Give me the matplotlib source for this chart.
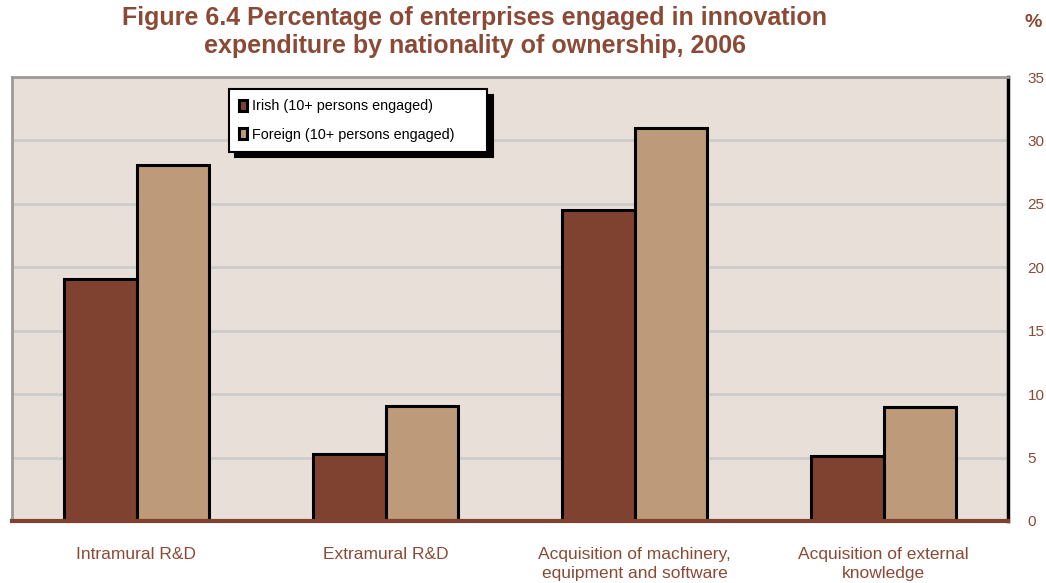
import matplotlib
matplotlib.use("Agg")
import matplotlib.pyplot as plt
import numpy as np

plt.rcParams['font.family'] = ['Liberation Sans', 'DejaVu Sans']

# Innovation expenditure by ownership, 2006 (% of enterprises)
categories = [
    "Intramural R&D",
    "Extramural R&D",
    "Acquisition of machinery,\nequipment and software",
    "Acquisition of external\nknowledge",
]
irish = [19.1, 5.3, 24.5, 5.1]
foreign = [28.1, 9.1, 31.0, 9.0]
series_names = ["Irish (10+ persons engaged)", "Foreign (10+ persons engaged)"]
y_ticks = [0, 5, 10, 15, 20, 25, 30, 35]

BROWN = '#7F4230'
TAN = '#BC9A7A'
TEXT = '#8B4A36'
BG = '#E8E0D8'

fig = plt.figure(figsize=(10.46, 5.83), dpi=100)
ax = fig.add_axes([12 / 1046, 1 - 521 / 583, 996 / 1046, 444 / 583])
ax.set_facecolor(BG)

x = np.arange(len(categories))
w = 0.29
b1 = ax.bar(x - w / 2, irish, w, color=BROWN, edgecolor='black', linewidth=2.2,
            label=series_names[0], zorder=3)
b2 = ax.bar(x + w / 2, foreign, w, color=TAN, edgecolor='black', linewidth=2.2,
            label=series_names[1], zorder=3)

ax.set_xlim(-0.5, len(categories) - 0.5)
ax.set_ylim(0, 35)

# gridlines
for t in y_ticks[1:-1]:
    ax.axhline(t, color='#CCCCCC', lw=2, zorder=1)
ax.axhline(0, color=BROWN, lw=3, zorder=4, clip_on=False)

for side in ['left', 'top']:
    ax.spines[side].set_color('#9A9A9A')
    ax.spines[side].set_linewidth(2)
ax.spines['right'].set_color('black')
ax.spines['right'].set_linewidth(2.5)
ax.spines['bottom'].set_visible(False)

ax.yaxis.tick_right()
ax.set_yticks(y_ticks)
ax.tick_params(axis='y', length=0, pad=14, labelsize=11, labelcolor=TEXT)
for lbl in ax.get_yticklabels():
    lbl.set_horizontalalignment('left')
ax.set_xticks(x)
ax.set_xticklabels(categories, fontsize=12.5, color=TEXT, linespacing=1.3)
ax.tick_params(axis='x', length=0, pad=19)

leg = ax.legend(handles=[b1, b2], loc='upper left',
                bbox_to_anchor=(0.218, 0.973 - 0.144, 0.259, 0.144), mode='expand',
                borderaxespad=0, fancybox=False, framealpha=1, edgecolor='black',
                fontsize=10.4, handlelength=0.55, handleheight=0.8, handletextpad=0.35,
                labelspacing=1.0, borderpad=0.7,
                shadow={'color': 'black', 'alpha': 1, 'ox': 4, 'oy': -4})
leg.get_frame().set_linewidth(1.5)

fig.text(0.454, 0.945, "Figure 6.4 Percentage of enterprises engaged in innovation\n"
         "expenditure by nationality of ownership, 2006",
         ha='center', va='center', fontsize=18, fontweight='bold', color=TEXT,
         linespacing=1.2)
fig.text(0.988, 0.962, "%", ha='center', va='center', fontsize=14,
         fontweight='bold', color=TEXT)

fig.savefig("out.png", dpi=100)
